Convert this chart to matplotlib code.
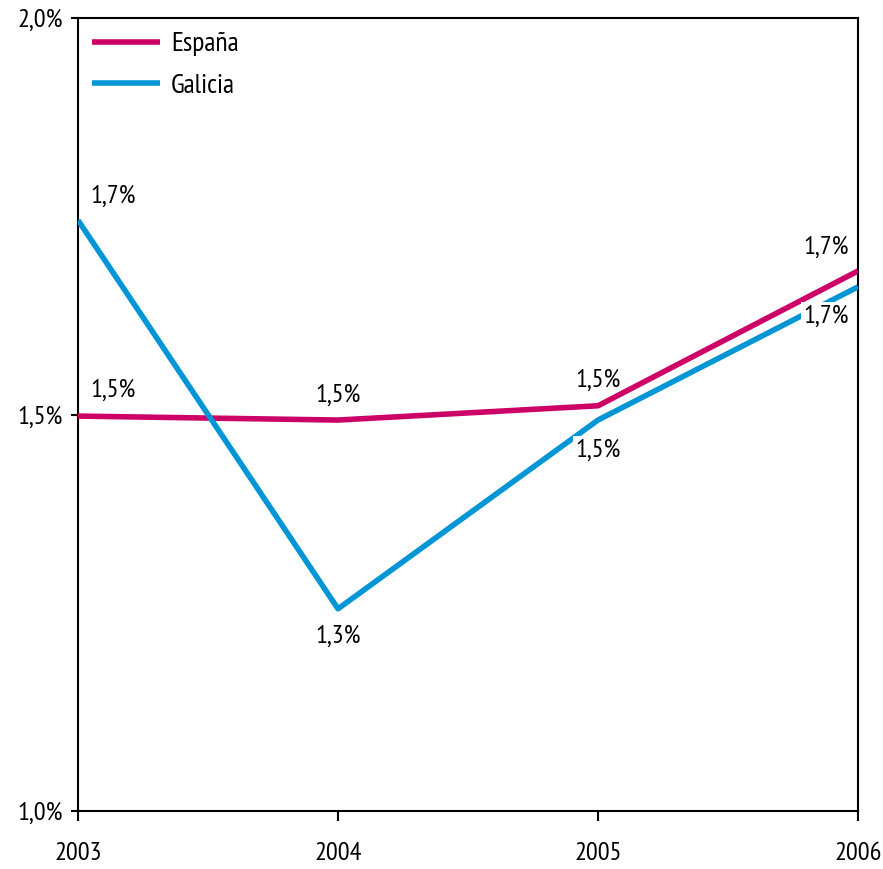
import matplotlib
matplotlib.use("Agg")
import matplotlib.pyplot as plt
from matplotlib import font_manager as fm

years = ["2003", "2004", "2005", "2006"]
espana = [1.498, 1.493, 1.511, 1.681]
galicia = [1.745, 1.255, 1.493, 1.661]
espana_labels = ["1,5%", "1,5%", "1,5%", "1,7%"]
galicia_labels = ["1,7%", "1,3%", "1,5%", "1,7%"]
yticks = [1.0, 1.5, 2.0]
ytick_labels = ["1,0%", "1,5%", "2,0%"]

available = set(f.name for f in fm.fontManager.ttflist)
family = 'DejaVu Sans'
for cand in ['PT Sans Narrow', 'Liberation Sans Narrow', 'Roboto Condensed', 'Open Sans Condensed', 'Liberation Sans']:
    if cand in available:
        family = cand
        break
plt.rcParams['font.family'] = [family, 'DejaVu Sans']
FS = 19

fig = plt.figure(figsize=(8.83, 8.69), dpi=100)
ax = fig.add_axes([78/883, 1-811/869, (858-78)/883, (811-18)/869])

x = list(range(len(years)))
c_es = "#CC0066"
c_ga = "#0096D6"
ax.plot(x, espana, color=c_es, lw=4, label="España", solid_capstyle="butt", zorder=3)
ax.plot(x, galicia, color=c_ga, lw=4, label="Galicia", solid_capstyle="butt", zorder=3)

ax.set_xlim(0, 3)
ax.set_ylim(1.0, 2.0)
ax.set_xticks(x)
ax.set_xticklabels(years)
ax.set_yticks(yticks)
ax.set_yticklabels(ytick_labels)
ax.tick_params(axis='x', direction='out', length=7, width=1.5, pad=15, labelsize=FS)
ax.tick_params(axis='y', direction='out', length=5, width=1.5, pad=6, labelsize=FS)
for s in ax.spines.values():
    s.set_linewidth(1.5)

bbox = dict(boxstyle="square,pad=0.1", fc="white", ec="none")
es_off = [(12, 26, 'left', False), (0, 25, 'center', False), (0, 25, 'center', False), (-32, 24, 'center', False)]
ga_off = [(12, 24, 'left', False), (0, -27, 'center', False), (0, -30, 'center', True), (-32, -29, 'center', True)]
for i, (v, lab) in enumerate(zip(espana, espana_labels)):
    dx, dy, ha, bg = es_off[i]
    ax.annotate(lab, (i, v), xytext=(dx, dy), textcoords='offset pixels', ha=ha, va='center',
                fontsize=FS, bbox=bbox if bg else None, zorder=5, annotation_clip=False)
for i, (v, lab) in enumerate(zip(galicia, galicia_labels)):
    dx, dy, ha, bg = ga_off[i]
    ax.annotate(lab, (i, v), xytext=(dx, dy), textcoords='offset pixels', ha=ha, va='center',
                fontsize=FS, bbox=bbox if bg else None, zorder=5, annotation_clip=False)

ax.legend(loc='upper left', frameon=False, fontsize=20, handlelength=2.45,
          handletextpad=0.4, borderaxespad=0.1, labelspacing=0.62, bbox_to_anchor=(0.0, 1.0))

fig.savefig("out.png", dpi=100)
